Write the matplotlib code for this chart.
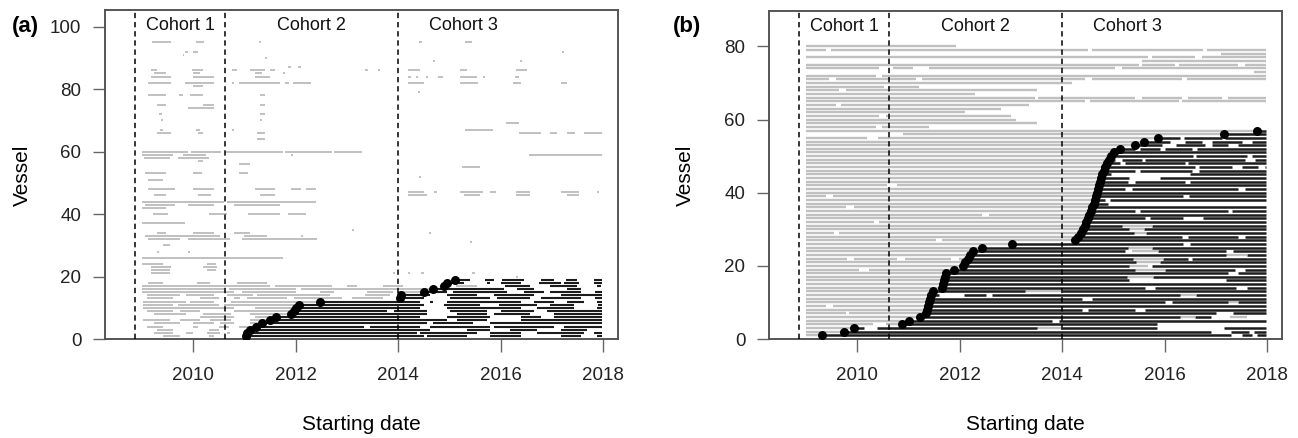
import numpy as np
import matplotlib.pyplot as plt

plt.rcParams['font.family'] = ['Liberation Sans', 'DejaVu Sans']

# ---------------------------------------------------------------- shared
cohort_breaks = [2008.87, 2010.63, 2014.0]
cohort_labels = ['Cohort 1', 'Cohort 2', 'Cohort 3']
cohort_label_x = [2009.76, 2012.3, 2015.28]
year_ticks = [2010, 2012, 2014, 2016, 2018]
last_day = 2017.97

# ---------------------------------------------------------------- panel (a)
# date of the black dot (vessel enters the fleet) for vessels 1..19
a_entry = [2011.03, 2011.05, 2011.10, 2011.23, 2011.35, 2011.50, 2011.62,
           2011.91, 2011.96, 2012.00, 2012.07, 2012.47, 2014.03, 2014.05,
           2014.51, 2014.68, 2014.89, 2014.95, 2015.10]

# black activity (vessel, start, end)
a_black = [
    (1, 2011.03, 2014.50), (1, 2014.56, 2015.34), (1, 2015.80, 2016.39), (1, 2017.17, 2017.56), (1, 2017.88, 2017.97),
    (2, 2011.05, 2014.37), (2, 2014.43, 2015.54), (2, 2015.80, 2016.39), (2, 2016.71, 2017.62), (2, 2017.82, 2017.97),
    (3, 2011.10, 2014.63), (3, 2015.34, 2015.80), (3, 2016.19, 2016.71), (3, 2017.17, 2017.69),
    (4, 2011.23, 2013.33), (4, 2013.46, 2014.43), (4, 2014.63, 2015.80), (4, 2015.87, 2017.04), (4, 2017.23, 2017.97),
    (5, 2011.35, 2014.56), (5, 2014.69, 2015.47), (5, 2015.80, 2017.97),
    (6, 2011.50, 2014.95), (6, 2015.15, 2015.74), (6, 2016.39, 2017.97),
    (7, 2011.62, 2014.43), (7, 2014.95, 2015.80), (7, 2016.39, 2016.78), (7, 2017.04, 2017.97),
    (8, 2011.91, 2014.56), (8, 2015.15, 2015.74), (8, 2015.87, 2016.58), (8, 2017.04, 2017.97),
    (9, 2011.96, 2013.78), (9, 2013.91, 2014.56), (9, 2015.02, 2015.74), (9, 2016.00, 2016.65), (9, 2016.91, 2017.97),
    (10, 2012.00, 2014.43), (10, 2014.95, 2016.39), (10, 2016.71, 2017.43), (10, 2017.88, 2017.97),
    (11, 2012.07, 2014.50), (11, 2014.89, 2015.60), (11, 2015.96, 2016.71), (11, 2016.97, 2017.43), (11, 2017.90, 2017.97),
    (12, 2012.47, 2014.43), (12, 2014.63, 2014.69), (12, 2014.95, 2016.39), (12, 2016.65, 2017.04), (12, 2017.30, 2017.62), (12, 2017.88, 2017.97),
    (13, 2014.03, 2014.50), (13, 2015.02, 2015.80), (13, 2015.93, 2016.58), (13, 2016.78, 2017.56), (13, 2017.85, 2017.97),
    (14, 2014.05, 2014.63), (14, 2014.95, 2015.54), (14, 2015.87, 2016.65), (14, 2017.17, 2017.97),
    (15, 2014.51, 2014.95), (15, 2015.08, 2016.13), (15, 2016.45, 2016.84), (15, 2016.97, 2017.56), (15, 2017.85, 2017.97),
    (16, 2014.68, 2016.06), (16, 2016.32, 2016.65), (16, 2017.30, 2017.56),
    (17, 2014.89, 2015.02), (17, 2016.09, 2016.58), (17, 2016.97, 2017.49), (17, 2017.88, 2017.95),
    (18, 2014.95, 2015.28), (18, 2015.74, 2015.80), (18, 2016.00, 2016.39), (18, 2016.74, 2017.17), (18, 2017.23, 2017.53), (18, 2017.82, 2017.97),
    (19, 2015.10, 2015.41), (19, 2015.70, 2015.87), (19, 2016.03, 2016.45), (19, 2016.78, 2017.04), (19, 2017.27, 2017.49), (19, 2017.82, 2017.97),
]

# grey activity (vessel, start, end)
a_gray = [
    (95, 2009.19, 2009.57), (95, 2010.05, 2010.21), (95, 2011.28, 2011.33), (95, 2014.41, 2014.47), (95, 2015.30, 2015.45),
    (92, 2009.85, 2009.90), (92, 2010.00, 2010.10), (91, 2009.80, 2009.83), (92, 2017.20, 2017.23),
    (89, 2016.38, 2016.41), (89, 2014.68, 2014.72), (90, 2011.40, 2011.44),
    (86, 2009.17, 2009.30), (86, 2009.98, 2010.20), (86, 2010.75, 2010.85), (86, 2011.11, 2011.40), (86, 2011.50, 2011.60),
    (87, 2011.85, 2011.90), (87, 2012.05, 2012.10), (86, 2013.35, 2013.42), (86, 2013.60, 2013.64), (86, 2014.20, 2014.43),
    (86, 2015.20, 2015.35), (86, 2016.30, 2016.52),
    (85, 2009.23, 2009.47), (85, 2010.00, 2010.14), (85, 2011.20, 2011.35), (85, 2011.75, 2011.80),
    (84, 2009.17, 2009.57), (84, 2010.00, 2010.40), (84, 2011.20, 2011.50), (84, 2014.20, 2014.25), (84, 2014.35, 2014.38),
    (84, 2014.55, 2014.58), (84, 2014.78, 2014.88), (84, 2015.20, 2015.54), (84, 2015.66, 2015.70), (84, 2016.29, 2016.36),
    (82, 2009.12, 2009.57), (82, 2009.84, 2010.40), (82, 2010.75, 2010.80), (82, 2010.90, 2011.70), (82, 2011.80, 2011.87),
    (82, 2011.95, 2012.30), (82, 2014.20, 2014.50), (82, 2015.20, 2015.55), (82, 2016.25, 2016.39), (82, 2017.17, 2017.30),
    (81, 2010.00, 2010.20),
    (78, 2009.12, 2009.47), (78, 2009.73, 2009.80), (78, 2009.94, 2010.20), (78, 2011.30, 2011.40), (79, 2014.38, 2014.42),
    (75, 2009.29, 2009.47), (75, 2010.20, 2010.40), (75, 2011.30, 2011.40),
    (74, 2009.90, 2010.40),
    (72, 2009.33, 2009.40), (72, 2011.30, 2011.40),
    (70, 2009.38, 2009.42), (70, 2011.30, 2011.35), (69, 2016.10, 2016.35),
    (67, 2009.35, 2009.42), (67, 2010.05, 2010.14), (67, 2010.75, 2010.80), (67, 2015.30, 2015.86),
    (66, 2009.29, 2009.57), (66, 2010.10, 2010.20), (66, 2011.25, 2011.40), (66, 2016.35, 2016.78), (66, 2016.97, 2017.10),
    (66, 2017.30, 2017.46), (66, 2017.62, 2017.97),
    (64, 2011.25, 2011.40),
    (60, 2009.00, 2009.90), (60, 2009.95, 2010.55), (60, 2010.62, 2011.75), (60, 2011.80, 2012.70), (60, 2012.75, 2013.30),
    (59, 2009.00, 2009.60), (59, 2009.80, 2010.25), (59, 2011.90, 2011.95), (59, 2016.55, 2017.97),
    (58, 2009.05, 2009.55), (58, 2009.70, 2010.30),
    (57, 2010.10, 2010.20),
    (56, 2010.90, 2011.10), (55, 2015.25, 2015.60),
    (53, 2009.06, 2009.47), (53, 2010.00, 2010.18), (53, 2010.90, 2011.07), (52, 2014.40, 2014.45),
    (51, 2009.12, 2009.42),
    (48, 2009.12, 2009.65), (48, 2010.00, 2010.40), (48, 2011.20, 2011.60), (48, 2011.90, 2012.10), (48, 2012.20, 2012.40),
    (47, 2014.20, 2014.50), (47, 2014.70, 2014.75), (47, 2015.20, 2015.65), (47, 2015.80, 2015.90), (47, 2016.30, 2016.58),
    (47, 2017.17, 2017.53), (47, 2017.88, 2017.92),
    (46, 2009.23, 2009.47), (46, 2010.10, 2010.34), (46, 2011.30, 2011.60), (46, 2014.20, 2014.56), (46, 2015.28, 2015.60),
    (46, 2016.30, 2016.58), (46, 2017.30, 2017.53),
    (44, 2009.00, 2010.60), (44, 2010.66, 2012.40),
    (43, 2009.06, 2009.65), (43, 2009.90, 2010.40), (43, 2010.80, 2011.70),
    (42, 2009.00, 2009.47),
    (40, 2009.21, 2009.50), (40, 2010.30, 2010.66), (40, 2011.07, 2011.70), (40, 2011.85, 2012.20),
    (37, 2009.00, 2009.85),
    (35, 2013.10, 2013.14),
    (34, 2009.29, 2009.47), (34, 2009.99, 2010.40), (34, 2010.79, 2011.10), (34, 2014.60, 2014.64),
    (33, 2009.06, 2010.53), (33, 2010.99, 2011.44), (33, 2012.10, 2012.15),
    (32, 2009.12, 2009.74), (32, 2009.90, 2010.72), (32, 2010.95, 2012.41),
    (31, 2015.40, 2015.44),
    (30, 2009.42, 2009.55),
    (28, 2009.30, 2009.34), (28, 2009.90, 2009.94),
    (26, 2009.00, 2011.76),
    (24, 2009.00, 2009.42), (24, 2010.27, 2010.45),
    (23, 2009.17, 2009.57), (23, 2010.20, 2010.47),
    (22, 2009.17, 2009.55), (22, 2010.27, 2010.45),
    (21, 2009.17, 2009.55), (21, 2013.90, 2013.94), (21, 2014.20, 2014.24), (21, 2014.45, 2014.50), (21, 2015.45, 2015.50),
    (20, 2016.30, 2016.34),
    (18, 2009.12, 2009.42), (18, 2010.08, 2010.33), (18, 2010.85, 2011.44),
    (17, 2009.00, 2011.50), (17, 2011.60, 2012.70), (17, 2013.00, 2013.20), (17, 2013.70, 2014.10), (17, 2015.12, 2015.54),
    (16, 2009.00, 2010.60), (16, 2010.70, 2012.00), (16, 2012.10, 2014.68),
    (15, 2009.00, 2010.80), (15, 2010.95, 2012.00), (15, 2012.48, 2012.75), (15, 2013.40, 2013.90), (15, 2014.00, 2014.51),
    (14, 2009.10, 2009.74), (14, 2009.87, 2010.40), (14, 2010.66, 2011.17), (14, 2011.24, 2012.68), (14, 2013.35, 2013.85),
    (13, 2009.10, 2009.61), (13, 2010.14, 2010.50), (13, 2010.79, 2010.92), (13, 2011.05, 2011.83), (13, 2011.96, 2012.90),
    (13, 2013.10, 2013.70),
    (12, 2009.03, 2009.87), (12, 2009.93, 2010.40), (12, 2010.73, 2012.47),
    (11, 2009.03, 2009.60), (11, 2009.70, 2010.50), (11, 2010.60, 2012.07),
    (10, 2009.03, 2010.79), (10, 2011.20, 2012.00),
    (9, 2009.10, 2009.61), (9, 2009.74, 2010.14), (9, 2010.79, 2011.96),
    (8, 2009.23, 2009.87), (8, 2010.20, 2010.73), (8, 2011.10, 2011.91),
    (7, 2010.14, 2010.79), (7, 2011.20, 2011.62),
    (6, 2009.03, 2009.55), (6, 2009.74, 2010.14), (6, 2010.33, 2010.73), (6, 2011.10, 2011.50),
    (5, 2009.23, 2009.74), (5, 2010.00, 2010.40), (5, 2010.53, 2010.79), (5, 2011.10, 2011.35),
    (4, 2009.10, 2009.42), (4, 2010.00, 2010.10), (4, 2010.50, 2010.70), (4, 2010.90, 2011.23),
    (3, 2009.29, 2009.61), (3, 2010.30, 2010.50),
    (2, 2009.23, 2009.61), (2, 2009.87, 2010.00), (2, 2010.27, 2010.53), (2, 2010.66, 2010.72),
    (1, 2009.42, 2009.74), (1, 2010.30, 2010.40),
]

# ---------------------------------------------------------------- panel (b)
b_first_day = 2009.0
# entry date (black dot) for vessels 1..57
b_entry = [2009.32, 2009.74, 2009.94, 2010.87, 2011.02, 2011.22, 2011.34,
           2011.36, 2011.38, 2011.40, 2011.42, 2011.44, 2011.47, 2011.66,
           2011.68, 2011.70, 2011.72, 2011.73, 2011.88, 2012.07, 2012.11,
           2012.16, 2012.21, 2012.25, 2012.44, 2013.03, 2014.25, 2014.30,
           2014.36, 2014.40, 2014.44, 2014.47, 2014.50, 2014.53, 2014.56,
           2014.59, 2014.62, 2014.64, 2014.66, 2014.68, 2014.70, 2014.72,
           2014.74, 2014.76, 2014.78, 2014.81, 2014.84, 2014.87, 2014.91,
           2014.96, 2015.02, 2015.13, 2015.42, 2015.60, 2015.87, 2017.16,
           2017.80]
# vessels whose record stops before the end
b_last_day = {4: 2015.85, 6: 2016.90, 37: 2014.90}
# grey-only vessels above the staircase (vessel, start, end)
b_upper = [
    (80, 2009.0, 2011.92), (79, 2009.0, 2017.97), (78, 2017.10, 2017.97),
    (77, 2009.0, 2017.97), (76, 2015.55, 2017.97), (75, 2009.0, 2017.97),
    (74, 2009.0, 2017.97), (73, 2017.75, 2017.97), (72, 2009.0, 2017.97),
    (71, 2009.0, 2017.97), (70, 2009.0, 2014.20), (69, 2009.0, 2011.20),
    (68, 2009.0, 2013.50), (67, 2009.0, 2012.30), (66, 2009.0, 2017.97),
    (65, 2009.0, 2017.97), (64, 2009.0, 2013.35), (63, 2009.0, 2012.80),
    (62, 2009.0, 2012.10), (61, 2009.0, 2013.00), (60, 2009.0, 2013.10),
    (59, 2009.0, 2013.50), (58, 2009.0, 2011.40),
]
# periods without records (vessel, start, end)
b_gaps = [
    (79, 2009.39, 2009.48), (79, 2014.51, 2014.58), (79, 2016.75, 2016.82),
    (77, 2015.68, 2015.75), (77, 2016.59, 2016.72),
    (75, 2015.49, 2015.55), (75, 2016.20, 2016.27), (75, 2017.44, 2017.57),
    (74, 2010.43, 2010.69), (74, 2011.08, 2011.40), (74, 2015.03, 2015.16),
    (72, 2010.36, 2010.49), (71, 2009.45, 2009.58), (71, 2011.14, 2011.27),
    (71, 2014.45, 2014.58), (71, 2016.33, 2016.43), (69, 2010.52, 2010.60),
    (68, 2009.65, 2009.78), (66, 2013.47, 2013.53), (66, 2015.42, 2015.55),
    (66, 2016.33, 2016.46), (66, 2017.12, 2017.24), (65, 2014.45, 2014.55),
    (65, 2016.27, 2016.33), (64, 2009.58, 2009.68), (61, 2010.43, 2010.56),
    (58, 2010.36, 2010.49), (58, 2011.47, 2011.66), (56, 2009.0, 2010.90),
    (55, 2010.20, 2010.40), (55, 2016.30, 2016.38), (55, 2017.12, 2017.18),
    (54, 2016.10, 2016.40), (54, 2016.72, 2016.92), (54, 2017.50, 2017.70),
    (53, 2015.94, 2016.23), (53, 2016.79, 2016.92), (53, 2017.24, 2017.44),
    (52, 2015.42, 2015.52), (52, 2015.91, 2016.01), (52, 2016.53, 2016.63),
    (50, 2016.56, 2016.62), (50, 2017.60, 2017.70), (49, 2015.03, 2015.16),
    (49, 2015.55, 2015.62), (49, 2017.57, 2017.76), (48, 2015.13, 2015.23),
    (48, 2016.40, 2016.46), (47, 2016.59, 2016.66), (47, 2017.31, 2017.50),
    (47, 2017.83, 2017.96), (46, 2015.42, 2015.52), (46, 2016.53, 2016.66),
    (45, 2014.95, 2016.50), (44, 2015.30, 2015.90), (43, 2015.29, 2015.42),
    (43, 2016.40, 2016.50), (42, 2010.59, 2010.78), (41, 2015.23, 2015.36),
    (41, 2017.44, 2017.57), (39, 2009.39, 2009.52), (39, 2016.36, 2016.48),
    (38, 2014.84, 2014.94), (36, 2009.78, 2009.94), (35, 2015.42, 2015.52),
    (35, 2017.24, 2017.31), (34, 2012.44, 2012.57), (33, 2015.62, 2015.72),
    (33, 2016.36, 2016.75), (32, 2010.33, 2010.43), (29, 2009.55, 2009.65),
    (28, 2016.33, 2016.46), (28, 2017.44, 2017.57), (27, 2011.53, 2011.66),
    (26, 2016.36, 2016.49), (24, 2015.23, 2015.36), (24, 2017.20, 2017.33),
    (22, 2009.81, 2009.94), (22, 2010.78, 2010.94), (22, 2011.83, 2011.99),
    (22, 2016.46, 2016.53), (20, 2015.68, 2015.75), (19, 2010.04, 2010.23),
    (19, 2017.37, 2017.57), (18, 2017.24, 2017.44), (16, 2015.30, 2017.20),
    (14, 2015.62, 2015.82), (14, 2017.40, 2017.60), (12, 2011.60, 2012.09),
    (12, 2012.51, 2012.63), (11, 2014.38, 2014.58), (10, 2016.01, 2016.14),
    (9, 2009.39, 2009.52), (8, 2014.38, 2014.51), (8, 2015.42, 2015.62),
    (7, 2009.78, 2009.84), (7, 2017.00, 2017.34), (5, 2013.80, 2013.93),
    (4, 2010.30, 2010.56), (3, 2010.13, 2010.38), (3, 2015.85, 2017.15),
    (2, 2016.90, 2017.30), (2, 2017.65, 2017.75), (1, 2017.30, 2017.50),
    (1, 2017.70, 2017.80),
]
# grey spells inside the black area (vessel, start, end)
b_gray_patch = [
    (31, 2015.16, 2015.75), (30, 2015.30, 2015.60), (29, 2015.40, 2015.64),
    (25, 2015.29, 2015.75), (24, 2015.36, 2015.86), (23, 2017.20, 2017.60),
    (22, 2015.39, 2015.97), (21, 2015.45, 2015.90), (20, 2015.30, 2015.68),
    (19, 2015.42, 2016.00), (17, 2015.27, 2015.78), (13, 2013.27, 2014.00),
    (12, 2016.30, 2016.62), (10, 2017.24, 2017.44), (6, 2016.30, 2016.60),
    (6, 2017.27, 2017.60), (3, 2013.50, 2014.00),
]


def cut(segs, holes):
    out = []
    for s, e in segs:
        pieces = [(s, e)]
        for hs, he in holes:
            keep = []
            for ps, pe in pieces:
                if he <= ps or hs >= pe:
                    keep.append((ps, pe))
                    continue
                if hs > ps:
                    keep.append((ps, hs))
                if he < pe:
                    keep.append((he, pe))
            pieces = keep
        out += pieces
    return out


def build_b():
    gray, black = [], []
    for i, entry in enumerate(b_entry):
        v = i + 1
        end = b_last_day.get(v, last_day)
        holes = [(s, e) for w, s, e in b_gaps if w == v]
        patch = [(s, e) for w, s, e in b_gray_patch if w == v]
        g = [(b_first_day, entry)] + patch
        k = cut([(entry, end)], patch)
        gray += [(v, s, e) for s, e in cut(g, holes)]
        black += [(v, s, e) for s, e in cut(k, holes)]
    for v, s, e in b_upper:
        holes = [(hs, he) for w, hs, he in b_gaps if w == v]
        gray += [(v, a, b) for a, b in cut([(s, e)], holes)]
    return gray, black


def draw_rows(ax, segs, color, lw):
    if not segs:
        return
    v, s, e = zip(*segs)
    ax.hlines(v, s, e, colors=color, linewidth=lw, zorder=2)


def style(ax, ylim, yticks):
    ax.set_xlim(2008.28, 2018.29)
    ax.set_ylim(*ylim)
    ax.set_xticks(year_ticks)
    ax.set_yticks(yticks)
    ax.tick_params(direction='out', length=9, width=1.0, color='#666666',
                   labelsize=13.5, labelcolor='#222222')
    ax.tick_params(axis='x', pad=11)
    ax.tick_params(axis='y', pad=8)
    for sp in ax.spines.values():
        sp.set_color('#555555')
        sp.set_linewidth(1.4)
    for x in cohort_breaks:
        ax.axvline(x, color='black', lw=1.1, ls=(0, (3.5, 2.5)), zorder=3)
    for x, lab in zip(cohort_label_x, cohort_labels):
        ax.text(x, 0.952, lab, transform=ax.get_xaxis_transform(),
                ha='center', va='center', fontsize=13, color='#111111')


fig = plt.figure(figsize=(12.98, 4.38), dpi=100)
ax_a = fig.add_axes([0.0809, 0.226, 0.3952, 0.751])
ax_b = fig.add_axes([0.5925, 0.226, 0.3952, 0.749])

GRAY = '#c0c0c0'
BLACK = '#1c1c1c'

# panel (a)
draw_rows(ax_a, a_gray, GRAY, 1.4)
draw_rows(ax_a, a_black, BLACK, 1.5)
ax_a.scatter(a_entry, np.arange(1, len(a_entry) + 1), s=42, color='black',
             zorder=4, linewidths=0)
style(ax_a, (0, 105.3), [0, 20, 40, 60, 80, 100])

# panel (b)
b_gray, b_black = build_b()
draw_rows(ax_b, b_gray, GRAY, 1.7)
draw_rows(ax_b, b_black, BLACK, 1.8)
ax_b.scatter(b_entry, np.arange(1, len(b_entry) + 1), s=42, color='black',
             zorder=4, linewidths=0)
style(ax_b, (0, 89.7), [0, 20, 40, 60, 80])

for x, lab in [(0.009, '(a)'), (0.5185, '(b)')]:
    fig.text(x, 0.94, lab, fontsize=16, fontweight='bold', va='center',
             ha='left')
for x in [0.017, 0.528]:
    fig.text(x, 0.60, 'Vessel', rotation=90, fontsize=15, va='center',
             ha='center')
for x in [0.2785, 0.79]:
    fig.text(x, 0.03, 'Starting date', fontsize=15, va='center',
             ha='center')

fig.savefig('out.png', dpi=100)
